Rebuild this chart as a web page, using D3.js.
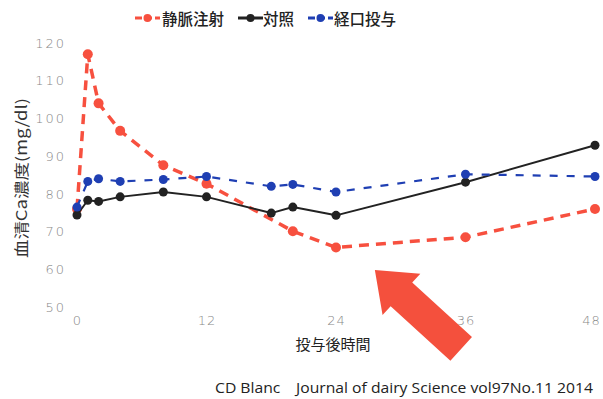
<!DOCTYPE html>
<html><head><meta charset="utf-8">
<script src="https://cdn.jsdelivr.net/npm/d3@7"></script>
<style>body{margin:0;background:#fff}svg{display:block}</style>
</head><body>
<script>
const seriesNames = ["静脈注射", "対照", "経口投与"];
const ivTimes = [0, 1, 2, 4, 8, 12, 20, 24, 36, 48];
const ivValues = [76, 117, 104, 96.7, 87.6, 82.7, 70.1, 65.8, 68.5, 76];
const ctrlTimes = [0, 1, 2, 4, 8, 12, 18, 20, 24, 36, 48];
const ctrlValues = [74.4, 78.3, 78.0, 79.2, 80.5, 79.2, 74.9, 76.5, 74.3, 83.1, 92.9];
const oralTimes = [0, 1, 2, 4, 8, 12, 18, 20, 24, 36, 48];
const oralValues = [76.5, 83.3, 84.0, 83.3, 83.8, 84.6, 82.0, 82.5, 80.5, 85.2, 84.6];
const xTicks = [0, 12, 24, 36, 48];
const yTicks = [50, 60, 70, 80, 90, 100, 110, 120];
const yTitle = "血清Ca濃度(mg/dl)";
const xTitle = "投与後時間";
const sourceText = "CD Blanc\u3000Journal of dairy Science vol97No.11 2014";
const arrowTip = [27.6, 59.8];   // annotation arrow (time, value)
const arrowTail = [35.6, 38.9];

const W = 603, H = 399;
const svg = d3.select("body").append("svg").attr("width", W).attr("height", H);
const x = d3.scaleLinear().domain([0, 48]).range([77, 595]);
const y = d3.scaleLinear().domain([50, 120]).range([307, 43]);

const jp = "'Noto Sans CJK JP', sans-serif";

// y tick labels
const yAxis = d3.axisLeft(y).tickValues(yTicks).tickSize(0).tickPadding(0);
const gy = svg.append("g").attr("transform", "translate(66,0)").call(yAxis);
gy.select(".domain").remove();
gy.selectAll("text").attr("font-family", "'DejaVu Sans', sans-serif").attr("font-size", 13)
  .attr("font-weight", 200).attr("fill", "#888").attr("letter-spacing", "2px");

// x tick labels
const xAxis = d3.axisBottom(x).tickValues(xTicks).tickSize(0).tickPadding(0);
const gx = svg.append("g").attr("transform", "translate(0,316)").call(xAxis);
gx.select(".domain").remove();
gx.selectAll("text").attr("font-family", "'DejaVu Sans', sans-serif").attr("font-size", 13)
  .attr("font-weight", 200).attr("fill", "#888").attr("letter-spacing", "1px")
  .attr("dx", d => d === 48 ? -4 : 0);

// titles
svg.append("text").attr("transform", "translate(20,178) rotate(-90)").attr("text-anchor", "middle")
  .attr("dominant-baseline", "central").attr("font-family", jp).attr("font-size", 15)
  .attr("textLength", 160).attr("lengthAdjust", "spacingAndGlyphs").attr("fill", "#333").text(yTitle);
svg.append("text").attr("x", 333).attr("y", 343).attr("text-anchor", "middle")
  .attr("dominant-baseline", "central").attr("font-family", jp).attr("font-size", 15).attr("fill", "#222").text(xTitle);
svg.append("text").attr("x", 215).attr("y", 387)
  .attr("dominant-baseline", "central").attr("font-family", "'Open Sans', sans-serif").attr("font-size", 15)
  .attr("textLength", 378).attr("lengthAdjust", "spacingAndGlyphs").attr("fill", "#222").text(sourceText);

const series = [
  {name: seriesNames[0], t: ivTimes, v: ivValues, color: "#f7503f", width: 3.5, dash: "10,7", r: 5},
  {name: seriesNames[1], t: ctrlTimes, v: ctrlValues, color: "#222222", width: 2, dash: null, r: 4.5},
  {name: seriesNames[2], t: oralTimes, v: oralValues, color: "#1f3fb3", width: 2.2, dash: "8,9", r: 4.5}
];
const line = d3.line().x(d => x(d[0])).y(d => y(d[1]));
const order = [0, 1, 2];
order.forEach(i => {
  const s = series[i];
  const pts = s.t.map((t, k) => [t, s.v[k]]);
  const g = svg.append("g");
  g.append("path").datum(pts).attr("d", line).attr("fill", "none").attr("stroke", s.color)
    .attr("stroke-width", s.width).attr("stroke-dasharray", s.dash).attr("stroke-linejoin", "round");
  g.selectAll("circle").data(pts).join("circle").attr("cx", d => x(d[0])).attr("cy", d => y(d[1]))
    .attr("r", s.r).attr("fill", s.color);
});

// legend
const legendItems = [
  {s: series[0], lx: 135, tx: 162},
  {s: series[1], lx: 238, tx: 263},
  {s: series[2], lx: 308, tx: 334}
];
legendItems.forEach(it => {
  const g = svg.append("g");
  g.append("line").attr("x1", it.lx).attr("x2", it.lx + 25).attr("y1", 18).attr("y2", 18)
    .attr("stroke", it.s.color).attr("stroke-width", 3).attr("stroke-dasharray", it.s.dash ? "7,3" : null);
  g.append("circle").attr("cx", it.lx + 12.5).attr("cy", 18).attr("r", 4).attr("fill", it.s.color);
  g.append("text").attr("x", it.tx).attr("y", 18).attr("dominant-baseline", "central")
    .attr("font-family", jp).attr("font-size", 15.5).attr("font-weight", 500).attr("fill", "#222").text(it.s.name);
});

// annotation arrow
const tip = [x(arrowTip[0]), y(arrowTip[1])];
const tail = [x(arrowTail[0]), y(arrowTail[1])];
const dx = tip[0] - tail[0], dy = tip[1] - tail[1];
const L = Math.hypot(dx, dy);
const ux = dx / L, uy = dy / L, px = -uy, py = ux;
const headLen = 36, headHalf = 28, shaftHalf = 16;
const bx = tip[0] - ux * headLen, by = tip[1] - uy * headLen;
const P = (cx, cy, s) => [cx + px * s, cy + py * s];
const poly = [tip, P(bx, by, headHalf), P(bx, by, shaftHalf), P(tail[0], tail[1], shaftHalf),
  P(tail[0], tail[1], -shaftHalf), P(bx, by, -shaftHalf), P(bx, by, -headHalf)];
svg.append("path").attr("d", "M" + poly.map(p => p.join(",")).join("L") + "Z").attr("fill", "#f4503d");
</script>
</body></html>
